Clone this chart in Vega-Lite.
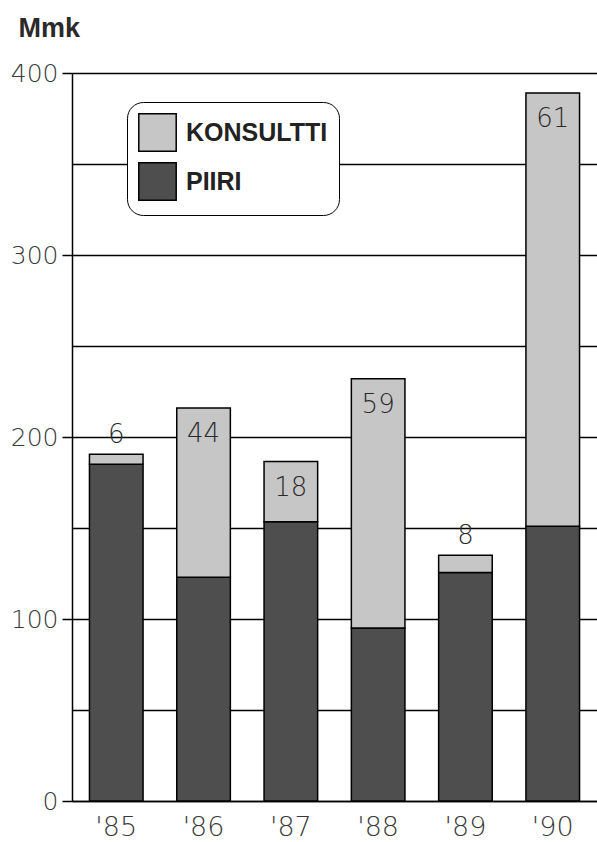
{
  "$schema": "https://vega.github.io/schema/vega-lite/v6.json",
  "autosize": "none",
  "width": 525,
  "height": 728,
  "padding": {"left": 72, "top": 73, "right": 0, "bottom": 41},
  "background": "white",
  "datasets": {
    "bars": [
      {"year": "'85", "type": "PIIRI", "value": 185},
      {"year": "'85", "type": "KONSULTTI", "value": 5.5},
      {"year": "'86", "type": "PIIRI", "value": 123},
      {"year": "'86", "type": "KONSULTTI", "value": 93},
      {"year": "'87", "type": "PIIRI", "value": 153.5},
      {"year": "'87", "type": "KONSULTTI", "value": 33},
      {"year": "'88", "type": "PIIRI", "value": 95},
      {"year": "'88", "type": "KONSULTTI", "value": 137},
      {"year": "'89", "type": "PIIRI", "value": 125.5},
      {"year": "'89", "type": "KONSULTTI", "value": 9.5},
      {"year": "'90", "type": "PIIRI", "value": 151},
      {"year": "'90", "type": "KONSULTTI", "value": 238}
    ],
    "labels": [
      {"year": "'85", "total": 190.5, "pct": 6},
      {"year": "'86", "total": 216, "pct": 44},
      {"year": "'87", "total": 186.5, "pct": 18},
      {"year": "'88", "total": 232, "pct": 59},
      {"year": "'89", "total": 135, "pct": 8},
      {"year": "'90", "total": 389, "pct": 61}
    ]
  },
  "config": {
    "view": {"stroke": null},
    "axis": {"labelFont": "DejaVu Sans", "labelFontWeight": 200, "labelColor": "#3a3a3a"}
  },
  "layer": [
    {
      "data": {"name": "bars"},
      "mark": {"type": "bar", "stroke": "black", "strokeWidth": 1.5},
      "encoding": {
        "x": {
          "field": "year", "type": "nominal",
          "scale": {"paddingInner": 0.386, "paddingOuter": 0.2},
          "axis": {
            "title": null, "labelAngle": 0, "ticks": false,
            "labelFontSize": 27, "labelPadding": 13,
            "domainColor": "black", "domainWidth": 1.5
          }
        },
        "y": {
          "field": "value", "type": "quantitative", "stack": "zero",
          "scale": {"domain": [0, 400], "nice": false},
          "axis": {
            "values": [0, 50, 100, 150, 200, 250, 300, 350, 400],
            "labelExpr": "datum.value % 100 === 0 ? datum.label : ''",
            "tickOpacity": {"expr": "datum.value % 100 === 0 ? 1 : 0"},
            "tickSize": 10, "tickColor": "black", "tickWidth": 1.5,
            "labelFontSize": 25, "labelPadding": 4,
            "grid": true, "gridColor": "black", "gridWidth": 1.5, "gridOpacity": 1,
            "domainColor": "black", "domainWidth": 1.5,
            "title": "Mmk", "titleAngle": 0, "titleFont": "Liberation Sans",
            "titleFontSize": 27, "titleFontWeight": "bold", "titleColor": "#2a2a2a",
            "titleX": -54, "titleY": -37, "titleAlign": "left", "titleBaseline": "alphabetic"
          }
        },
        "color": {
          "field": "type", "type": "nominal",
          "scale": {"domain": ["KONSULTTI", "PIIRI"], "range": ["#c6c6c6", "#4e4e4e"]},
          "legend": {
            "title": null, "orient": "none", "legendX": 55, "legendY": 29,
            "symbolType": "square", "symbolSize": 1400, "symbolStrokeColor": "black",
            "symbolStrokeWidth": 1.5, "symbolOpacity": 1,
            "labelFont": "Liberation Sans", "labelFontWeight": "bold", "labelFontSize": 25,
            "labelColor": "#222222", "labelOffset": 9, "rowPadding": 4,
            "padding": 11, "fillColor": "white", "strokeColor": "black",
            "cornerRadius": 16
          }
        },
        "order": {"field": "type", "sort": "descending"}
      }
    },
    {
      "data": {"name": "labels"},
      "transform": [{"filter": "datum.pct >= 10"}],
      "mark": {"type": "text", "baseline": "top", "dy": 13, "font": "DejaVu Sans", "fontWeight": 200, "fontSize": 26, "color": "#2a2a2a"},
      "encoding": {
        "x": {"field": "year", "type": "nominal"},
        "y": {"field": "total", "type": "quantitative"},
        "text": {"field": "pct", "type": "quantitative"}
      }
    },
    {
      "data": {"name": "labels"},
      "transform": [{"filter": "datum.pct < 10"}],
      "mark": {"type": "text", "baseline": "alphabetic", "dy": -11, "font": "DejaVu Sans", "fontWeight": 200, "fontSize": 26, "color": "#2a2a2a"},
      "encoding": {
        "x": {"field": "year", "type": "nominal"},
        "y": {"field": "total", "type": "quantitative"},
        "text": {"field": "pct", "type": "quantitative"}
      }
    }
  ]
}
